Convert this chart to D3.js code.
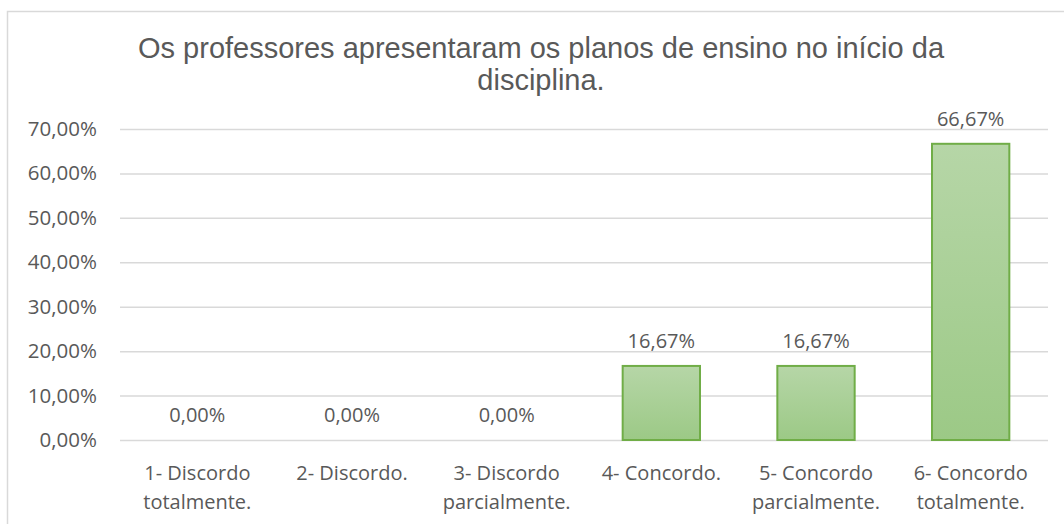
<!DOCTYPE html>
<html>
<head>
<meta charset="utf-8">
<script src="https://cdn.jsdelivr.net/npm/d3@7"></script>
<style>
  body { margin: 0; background: #fff; }
  svg { display: block; }
</style>
</head>
<body>
<svg id="chart" width="1064" height="524"></svg>
<script>
const titleLines = ["Os professores apresentaram os planos de ensino no início da", "disciplina."];
const categories = [
  ["1- Discordo", "totalmente."],
  ["2- Discordo."],
  ["3- Discordo", "parcialmente."],
  ["4- Concordo."],
  ["5- Concordo", "parcialmente."],
  ["6- Concordo", "totalmente."],
];
const values = [0, 0, 0, 16.67, 16.67, 66.67];
const yTicks = [0, 10, 20, 30, 40, 50, 60, 70];

const svg = d3.select("#chart");
const gray = "#595959";
const labelFont = "'Open Sans', sans-serif";
const pct = (d) => d3.format(".2f")(d).replace(".", ",") + "%";

// chart frame (right and bottom edges fall outside the picture)
svg.append("rect")
  .attr("x", 7.5).attr("y", 11.5)
  .attr("width", 1100).attr("height", 600)
  .attr("fill", "#fff")
  .attr("stroke", "#d9d9d9")
  .attr("stroke-width", 1.5);

const plot = { left: 120, right: 1048, top: 129, bottom: 440 };

const x = d3.scaleBand()
  .domain(d3.range(categories.length))
  .range([plot.left, plot.right])
  .paddingInner(0.5)
  .paddingOuter(0.25);

const y = d3.scaleLinear().domain([0, 70]).range([plot.bottom, plot.top]);

// title
svg.append("text")
  .attr("x", 541)
  .attr("y", 58)
  .attr("text-anchor", "middle")
  .attr("fill", gray)
  .style("font-family", "'Liberation Sans', Arial, sans-serif")
  .style("font-size", "29px")
  .selectAll("tspan")
  .data(titleLines)
  .join("tspan")
  .attr("x", 541)
  .attr("dy", (d, i) => (i === 0 ? 0 : 32))
  .text((d) => d);

// gridlines + y labels
const yAxis = d3.axisLeft(y)
  .tickValues(yTicks)
  .tickSize(-(plot.right - plot.left))
  .tickPadding(23)
  .tickFormat(pct);

const gy = svg.append("g")
  .attr("transform", `translate(${plot.left},0)`)
  .call(yAxis);
gy.select(".domain").remove();
gy.selectAll(".tick line").attr("stroke", "#d9d9d9").attr("stroke-width", 1.5);
gy.selectAll(".tick text")
  .attr("fill", gray)
  .style("font-family", labelFont)
  .style("font-size", "20.5px");

// bar gradient
const grad = svg.append("defs").append("linearGradient")
  .attr("id", "barGrad")
  .attr("x1", 0).attr("x2", 0).attr("y1", 0).attr("y2", 1);
grad.append("stop").attr("offset", "0%").attr("stop-color", "#b6d6a7");
grad.append("stop").attr("offset", "100%").attr("stop-color", "#9cc986");

const barData = values.map((v, i) => ({ v, i }));

// bars (zero values draw nothing)
svg.append("g")
  .selectAll("rect")
  .data(barData.filter((d) => d.v > 0))
  .join("rect")
  .attr("x", (d) => x(d.i))
  .attr("y", (d) => y(d.v))
  .attr("width", x.bandwidth())
  .attr("height", (d) => y(0) - y(d.v))
  .attr("fill", "url(#barGrad)")
  .attr("stroke", "#70ad47")
  .attr("stroke-width", 2);

// value labels
svg.append("g")
  .selectAll("text")
  .data(barData)
  .join("text")
  .attr("x", (d) => x(d.i) + x.bandwidth() / 2)
  .attr("y", (d) => y(d.v) - 25)
  .attr("dy", "0.35em")
  .attr("text-anchor", "middle")
  .attr("fill", gray)
  .style("font-family", labelFont)
  .style("font-size", "20px")
  .text((d) => pct(d.v));

// category labels
const cat = svg.append("g")
  .selectAll("text")
  .data(categories)
  .join("text")
  .attr("y", 480)
  .attr("text-anchor", "middle")
  .attr("fill", gray)
  .style("font-family", labelFont)
  .style("font-size", "20px");
cat.selectAll("tspan")
  .data((d, i) => d.map((t) => ({ t, i })))
  .join("tspan")
  .attr("x", (d) => x(d.i) + x.bandwidth() / 2)
  .attr("dy", (d, j) => (j === 0 ? 0 : 29))
  .text((d) => d.t);
</script>
</body>
</html>
